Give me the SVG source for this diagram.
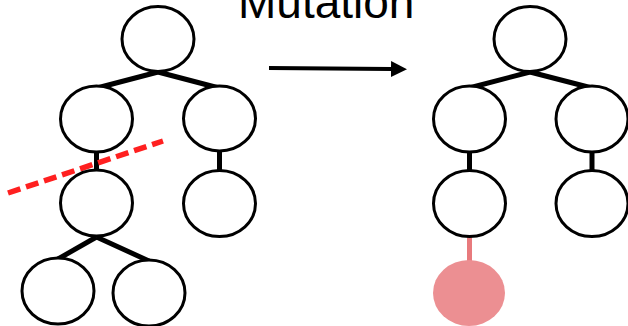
<svg xmlns="http://www.w3.org/2000/svg" width="628" height="326" viewBox="0 0 628 326">
<style>
.n{fill:#fff;stroke:#000;stroke-width:3}
.e{stroke:#000;stroke-width:5;fill:none}
.m{fill:#ec8f92}
</style>
<defs>
<marker id="ah" markerWidth="4" markerHeight="4" refX="0" refY="2" orient="auto" markerUnits="strokeWidth"><path d="M0,0L4,2L0,4z" fill="#000"/></marker>
</defs>
<text x="238" y="18" font-family="Liberation Sans, Arial, sans-serif" font-size="46" fill="#000">Mutation</text>
<g id="connectors">
<line class="e" x1="158" y1="72" x2="97" y2="88"/>
<line class="e" x1="158" y1="72" x2="219" y2="88"/>
<line class="e" x1="96.5" y1="152" x2="96.5" y2="171"/>
<line class="e" x1="219.5" y1="151" x2="219.5" y2="171"/>
<line class="e" x1="96.5" y1="237" x2="58" y2="259"/>
<line class="e" x1="96.5" y1="237" x2="149" y2="261"/>
<line x1="269" y1="68" x2="391" y2="69" stroke="#000" stroke-width="4" marker-end="url(#ah)"/>
<line class="e" x1="530" y1="72" x2="469" y2="88"/>
<line class="e" x1="530" y1="72" x2="592" y2="88"/>
<line class="e" x1="469.5" y1="152" x2="469.5" y2="171"/>
<line class="e" x1="592" y1="152" x2="592" y2="171"/>
<line x1="469.5" y1="237" x2="469.5" y2="262" stroke="#e87a7d" stroke-width="5"/>
<line x1="8" y1="193" x2="163" y2="141" stroke="#ff2020" stroke-width="5.5" stroke-dasharray="13,6"/>
</g>
<g id="L0"><ellipse class="n" cx="158" cy="39" rx="36" ry="32.5"/></g>
<g id="L1"><ellipse class="n" cx="96.5" cy="119" rx="36" ry="33"/></g>
<g id="L2"><ellipse class="n" cx="219.5" cy="118.5" rx="36" ry="32.5"/></g>
<g id="L3"><ellipse class="n" cx="96.5" cy="203" rx="36" ry="33"/></g>
<g id="L4"><ellipse class="n" cx="219.5" cy="203.5" rx="36" ry="33"/></g>
<g id="L5"><ellipse class="n" cx="58" cy="291" rx="36" ry="33"/></g>
<g id="L6"><ellipse class="n" cx="149" cy="293" rx="36" ry="33"/></g>
<g id="R0"><ellipse class="n" cx="530" cy="39" rx="36" ry="32.5"/></g>
<g id="R1"><ellipse class="n" cx="469.5" cy="119" rx="36" ry="33"/></g>
<g id="R2"><ellipse class="n" cx="592" cy="119" rx="36" ry="33"/></g>
<g id="R3"><ellipse class="n" cx="469.5" cy="203.5" rx="36" ry="33"/></g>
<g id="R4"><ellipse class="n" cx="592" cy="203.5" rx="36" ry="33"/></g>
<g id="R5"><ellipse class="m" cx="469" cy="293" rx="36" ry="33"/></g>
</svg>
